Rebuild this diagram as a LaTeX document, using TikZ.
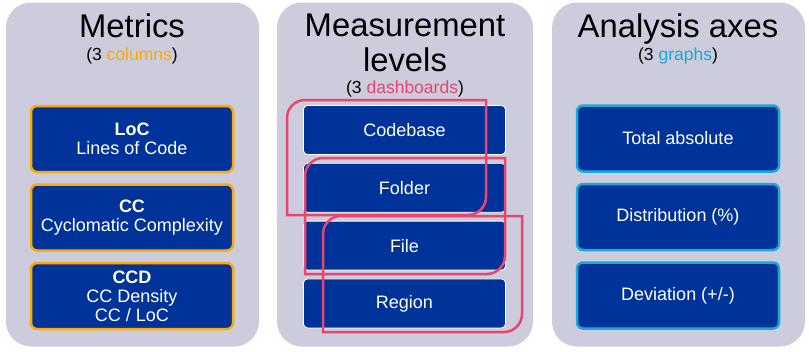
\documentclass[tikz,border=0pt]{standalone}
\usepackage{fontspec}
\setmainfont{Liberation Sans}
\usetikzlibrary{positioning}
\definecolor{panelbg}{HTML}{CCCCDD}
\definecolor{boxblue}{HTML}{003399}
\definecolor{metricorange}{HTML}{FFAA00}
\definecolor{levelred}{HTML}{E8466E}
\definecolor{axiscyan}{HTML}{1BA8DA}

\begin{document}
\begin{tikzpicture}[
  x=1pt, y=1pt,
  node distance=10pt,
  panel/.style={rectangle, rounded corners=25pt, fill=panelbg,
                minimum width=253pt, minimum height=344pt},
  title/.style={font=\fontsize{32.8}{35}\selectfont, align=center, inner sep=0pt},
  subtitle/.style={font=\fontsize{17.5}{19}\selectfont, inner sep=0pt},
  box/.style={rectangle, rounded corners=6pt, fill=boxblue, draw=metricorange,
              line width=2.5pt, minimum width=202pt, minimum height=66pt,
              align=center, text=white, font=\fontsize{18}{19}\selectfont},
  metricbox/.style={box},
  levelbox/.style={box, draw=white, line width=0.8pt, rounded corners=4pt,
                   minimum width=202pt, minimum height=49pt},
  axisbox/.style={box, draw=axiscyan},
  dashloop/.style={draw=levelred, line width=2.5pt}
]
  \useasboundingbox (0,0) rectangle (809,-351);

  % panels
  \node[panel] (metrics) at (132.5,-174.5) {};
  \node[panel, minimum width=256pt] (levels) at (405,-174.5) {};
  \node[panel] (axes) at (678.5,-174.5) {};

  % titles
  \node[title, anchor=base] (metricstitle) at (132,-37) {Metrics};
  \node[subtitle, anchor=base] (metricsnote) at (132,-60) {(3 \textcolor{metricorange}{columns})};
  \node[title, anchor=north] (levelstitle) at (405,-14) {Measurement\\levels};
  \node[subtitle, anchor=base] (levelsnote) at (405,-93) {(3 \textcolor{levelred}{dashboards})};
  \node[title, anchor=base] (axestitle) at (678,-37) {Analysis axes};
  \node[subtitle, anchor=base] (axesnote) at (678,-60) {(3 \textcolor{axiscyan}{graphs})};

  % metrics
  \node[metricbox] (loc) at (132,-139) {\textbf{LoC}\\Lines of Code};
  \node[metricbox, below=of loc] (cc) {\textbf{CC}\\Cyclomatic Complexity};
  \node[metricbox, below=of cc] (ccd) {\textbf{CCD}\\CC Density\\CC / LoC};

  % measurement levels
  \node[levelbox] (codebase) at (404.5,-130) {Codebase};
  \node[levelbox, below=8pt of codebase] (folder) {Folder};
  \node[levelbox, below=8pt of folder] (file) {File};
  \node[levelbox, below=8pt of file] (region) {Region};

  % analysis axes
  \node[axisbox] (total) at (678,-138.5) {Total absolute};
  \node[axisbox, below=of total] (distrib) {Distribution (\%)};
  \node[axisbox, below=of distrib] (deviation) {Deviation (+/-)};

  % dashboards
  \draw[dashloop] (287,-215) [rounded corners=18pt] -- (287,-100) [sharp corners] -- (486,-100)
    [rounded corners=18pt] -- (486,-215) [sharp corners] -- cycle;
  \draw[dashloop] (305,-274) [rounded corners=18pt] -- (305,-158) [sharp corners] -- (505,-158)
    [rounded corners=18pt] -- (505,-274) [sharp corners] -- cycle;
  \draw[dashloop] (323,-332) [rounded corners=18pt] -- (323,-216) [sharp corners] -- (522,-216)
    [rounded corners=18pt] -- (522,-332) [sharp corners] -- cycle;
\end{tikzpicture}
\end{document}
